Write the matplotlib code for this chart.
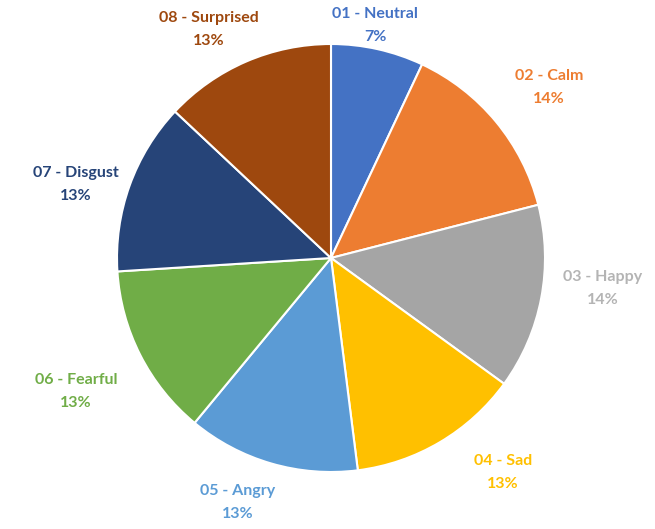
import matplotlib
matplotlib.use("Agg")
import matplotlib.pyplot as plt

categories = ["01 - Neutral", "02 - Calm", "03 - Happy", "04 - Sad",
              "05 - Angry", "06 - Fearful", "07 - Disgust", "08 - Surprised"]
values = [7, 14, 14, 13, 13, 13, 13, 13]
pct_labels = ["7%", "14%", "14%", "13%", "13%", "13%", "13%", "13%"]
colors = ["#4472C4", "#ED7D31", "#A5A5A5", "#FFC000",
          "#5B9BD5", "#70AD47", "#264478", "#9E480E"]
text_colors = ["#4472C4", "#ED7D31", "#B4B4B4", "#FFC000",
               "#5B9BD5", "#70AD47", "#264478", "#9E480E"]
# label centre positions in pixel coordinates (x, y from top)
label_pos = [(375, 26), (549, 88), (603, 289), (503, 473),
             (238, 503), (76, 392), (76, 185), (209, 30)]

W, H = 655, 529
fig = plt.figure(figsize=(W / 100, H / 100), dpi=100)
ax = fig.add_axes([0, 0, 1, 1])
ax.set_xlim(0, W)
ax.set_ylim(0, H)
ax.set_aspect("equal")
ax.axis("off")

ax.pie(values, colors=colors, startangle=90, counterclock=False,
       radius=214, center=(331, H - 258),
       wedgeprops=dict(edgecolor="white", linewidth=1.5))
ax.set_xlim(0, W)
ax.set_ylim(0, H)

for cat, pct, col, (x, y) in zip(categories, pct_labels, text_colors, label_pos):
    ax.text(x, H - y + 12, cat, ha="center", va="center", color=col,
            fontsize=11.5, fontweight="bold", family=["Lato", "DejaVu Sans"])
    ax.text(x, H - y - 11, pct, ha="center", va="center", color=col,
            fontsize=11.5, fontweight="bold", family=["Lato", "DejaVu Sans"])

fig.savefig("out.png", dpi=100)
